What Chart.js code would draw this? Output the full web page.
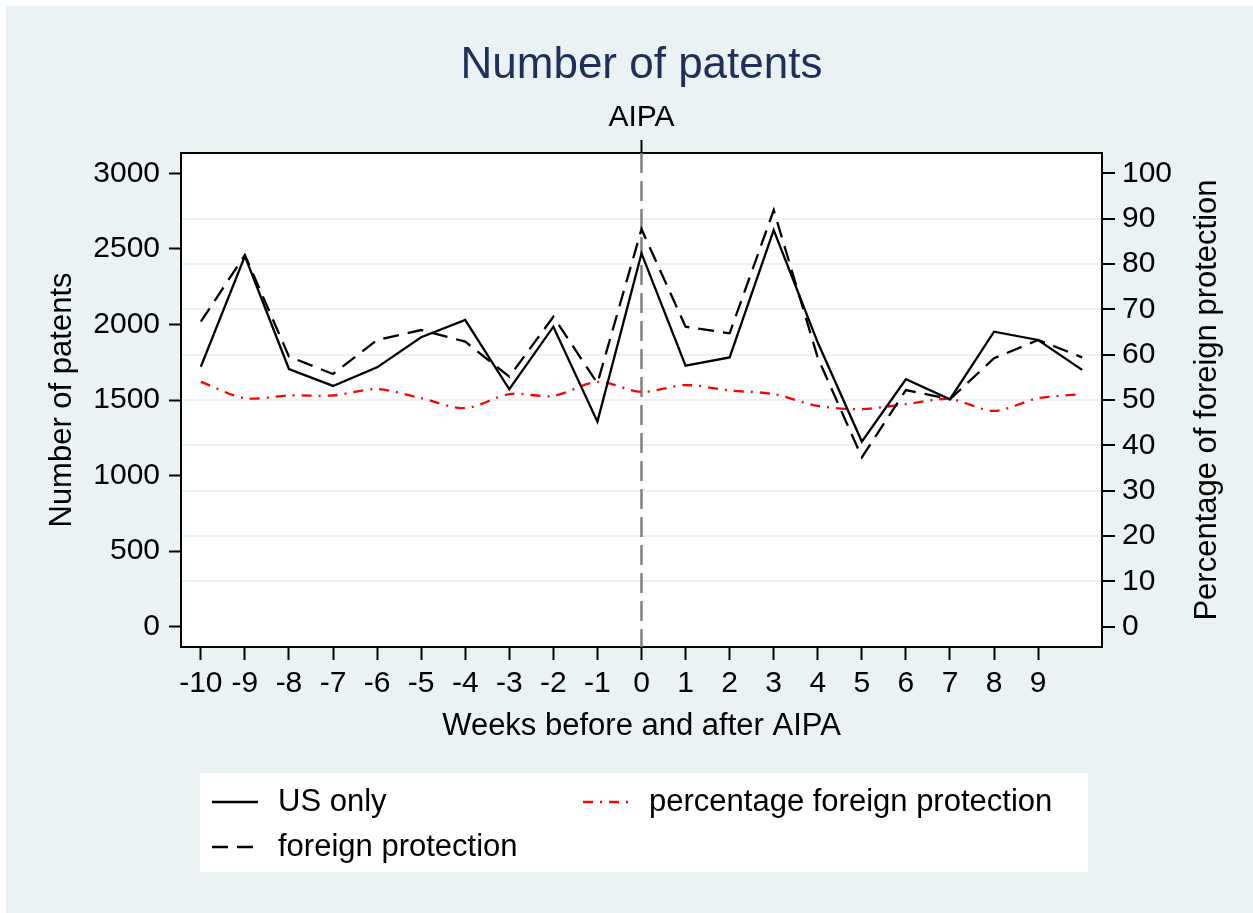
<!DOCTYPE html>
<html>
<head>
<meta charset="utf-8">
<script src="https://cdn.jsdelivr.net/npm/chart.js@4.4.1/dist/chart.umd.min.js"></script>
<style>
  html, body { margin: 0; padding: 0; background: #ffffff; }
  canvas { display: block; }
</style>
</head>
<body>
<canvas id="patentChart" width="1253" height="913"></canvas>
<script>
// Données
const weeks = [-10, -9, -8, -7, -6, -5, -4, -3, -2, -1, 0, 1, 2, 3, 4, 5, 6, 7, 8, 9, 10];
const usOnly = [1720, 2452, 1705, 1593, 1716, 1915, 2029, 1571, 1985, 1357, 2470, 1727, 1782, 2624, 1880, 1225, 1637, 1505, 1952, 1897, 1699];
const foreignProtection = [2018, 2459, 1787, 1672, 1897, 1963, 1886, 1654, 2051, 1611, 2630, 1985, 1941, 2756, 1780, 1121, 1566, 1505, 1776, 1897, 1782];
const pctForeign = [54.0, 50.4, 51.0, 51.0, 52.4, 50.4, 48.2, 51.3, 50.9, 54.0, 51.8, 53.3, 52.1, 51.3, 48.7, 48.0, 49.1, 50.2, 47.6, 50.4, 51.3];

const weekTicks = [-10, -9, -8, -7, -6, -5, -4, -3, -2, -1, 0, 1, 2, 3, 4, 5, 6, 7, 8, 9];
const patentTicks = [0, 500, 1000, 1500, 2000, 2500, 3000];
const pctTicks = [0, 10, 20, 30, 40, 50, 60, 70, 80, 90, 100];

const FONT = "'Liberation Sans', Arial, sans-serif";
const BG = "#EAF2F3";

function toPoints(values) {
  return weeks.map((w, i) => ({ x: w, y: values[i] }));
}

// Fond, ligne AIPA, titre, titre de l'axe droit et légende
const decorPlugin = {
  id: "decor",
  beforeDraw(chart) {
    const ctx = chart.ctx;
    const a = chart.chartArea;
    ctx.save();
    ctx.fillStyle = "#ffffff";
    ctx.fillRect(0, 0, chart.width, chart.height);
    ctx.fillStyle = BG;
    ctx.fillRect(6, 6, chart.width - 6, chart.height - 6);
    ctx.fillStyle = "#ffffff";
    ctx.fillRect(a.left, a.top, a.right - a.left, a.bottom - a.top);
    ctx.restore();
  },
  beforeDatasetsDraw(chart) {
    const ctx = chart.ctx;
    const a = chart.chartArea;
    const x = chart.scales.x.getPixelForValue(0);
    ctx.save();
    ctx.strokeStyle = "#808080";
    ctx.lineWidth = 2.5;
    ctx.setLineDash([20, 8]);
    ctx.beginPath();
    ctx.moveTo(x, a.top);
    ctx.lineTo(x, a.bottom);
    ctx.stroke();
    ctx.restore();
  },
  afterDraw(chart) {
    const ctx = chart.ctx;
    const a = chart.chartArea;
    ctx.save();
    // titre
    ctx.fillStyle = "#1e2f5a";
    ctx.font = "44px " + FONT;
    ctx.textAlign = "center";
    ctx.textBaseline = "middle";
    ctx.fillText("Number of patents", (a.left + a.right) / 2, 66);

    // titre de l'axe droit (lu de bas en haut)
    ctx.save();
    ctx.translate(1207, (a.top + a.bottom) / 2);
    ctx.rotate(-Math.PI / 2);
    ctx.fillStyle = "#000000";
    ctx.font = "31px " + FONT;
    ctx.fillText("Percentage of foreign protection", 0, 0);
    ctx.restore();

    // légende
    ctx.fillStyle = "#ffffff";
    ctx.fillRect(200, 773, 888, 99);
    const slots = [
      { x: 212, y: 802 },
      { x: 212, y: 847 },
      { x: 583, y: 802 },
    ];
    chart.data.datasets.forEach((ds, i) => {
      const s = slots[i];
      ctx.strokeStyle = ds.borderColor;
      ctx.lineWidth = ds.borderWidth;
      ctx.setLineDash(ds.borderDash || []);
      ctx.beginPath();
      ctx.moveTo(s.x, s.y);
      ctx.lineTo(s.x + 46, s.y);
      ctx.stroke();
      ctx.setLineDash([]);
      ctx.fillStyle = "#000000";
      ctx.font = "31px " + FONT;
      ctx.textAlign = "left";
      ctx.textBaseline = "middle";
      ctx.fillText(ds.label, s.x + 66, s.y);
    });
    ctx.restore();
  },
};

const ctx = document.getElementById("patentChart").getContext("2d");
const chart = new Chart(ctx, {
  type: "line",
  data: {
    datasets: [
      {
        label: "US only",
        data: toPoints(usOnly),
        borderColor: "#000000",
        borderWidth: 2.3,
        pointRadius: 0,
        tension: 0,
        yAxisID: "y",
      },
      {
        label: "foreign protection",
        data: toPoints(foreignProtection),
        borderColor: "#000000",
        borderWidth: 2.3,
        borderDash: [16, 9],
        pointRadius: 0,
        tension: 0,
        yAxisID: "y",
      },
      {
        label: "percentage foreign protection",
        data: toPoints(pctForeign),
        borderColor: "#ff0000",
        borderWidth: 2.3,
        borderDash: [10, 7, 2, 7],
        pointRadius: 0,
        tension: 0.3,
        yAxisID: "y2",
      },
    ],
  },
  options: {
    responsive: false,
    animation: false,
    devicePixelRatio: 1,
    layout: { padding: 0 },
    plugins: {
      legend: { display: false },
      title: { display: false },
      tooltip: { enabled: false },
    },
    scales: {
      x: {
        type: "linear",
        position: "bottom",
        min: -10.45,
        max: 10.45,
        afterBuildTicks: (s) => { s.ticks = weekTicks.map((v) => ({ value: v })); },
        afterFit: (s) => { s.height = 266; },
        grid: { drawOnChartArea: false, drawTicks: true, tickLength: 13, tickColor: "#000000", tickWidth: 2 },
        border: { color: "#000000", width: 2 },
        ticks: { color: "#000000", font: { family: FONT, size: 30 }, padding: 6, autoSkip: false, maxRotation: 0, callback: (v) => String(v) },
        title: {
          display: true,
          text: "Weeks before and after AIPA",
          color: "#000000",
          font: { family: FONT, size: 31 },
          padding: { top: 0, bottom: 168 },
        },
      },
      x2: {
        type: "linear",
        position: "top",
        min: -10.45,
        max: 10.45,
        afterBuildTicks: (s) => { s.ticks = [{ value: 0 }]; },
        afterFit: (s) => { s.height = 153; },
        grid: { drawOnChartArea: false, drawTicks: true, tickLength: 13, tickColor: "#000000", tickWidth: 2 },
        border: { color: "#000000", width: 2 },
        ticks: { color: "#000000", font: { family: FONT, size: 30 }, padding: 4, callback: () => "AIPA" },
      },
      y: {
        type: "linear",
        position: "left",
        min: -134,
        max: 3134,
        afterBuildTicks: (s) => { s.ticks = patentTicks.map((v) => ({ value: v })); },
        afterFit: (s) => { s.width = 181; },
        grid: { drawOnChartArea: false, drawTicks: true, tickLength: 12, tickColor: "#000000", tickWidth: 2 },
        border: { color: "#000000", width: 2 },
        ticks: { color: "#000000", font: { family: FONT, size: 30 }, padding: 9, callback: (v) => String(v) },
        title: {
          display: true,
          text: "Number of patents",
          color: "#000000",
          font: { family: FONT, size: 31 },
          padding: { top: 44, bottom: 0 },
        },
      },
      y2: {
        type: "linear",
        position: "right",
        min: -4.47,
        max: 104.47,
        afterBuildTicks: (s) => { s.ticks = pctTicks.map((v) => ({ value: v })); },
        afterFit: (s) => { s.width = 151; },
        grid: {
          drawOnChartArea: true,
          drawTicks: true,
          tickLength: 13,
          tickColor: "#000000",
          tickWidth: 2,
          lineWidth: 2,
          color: (c) => (c.tick && (c.tick.value === 0 || c.tick.value === 100) ? "rgba(0,0,0,0)" : BG),
        },
        border: { color: "#000000", width: 2 },
        ticks: { color: "#000000", font: { family: FONT, size: 30 }, padding: 7, callback: (v) => String(v) },
        title: { display: false },
      },
    },
  },
  plugins: [decorPlugin],
});
</script>
</body>
</html>
